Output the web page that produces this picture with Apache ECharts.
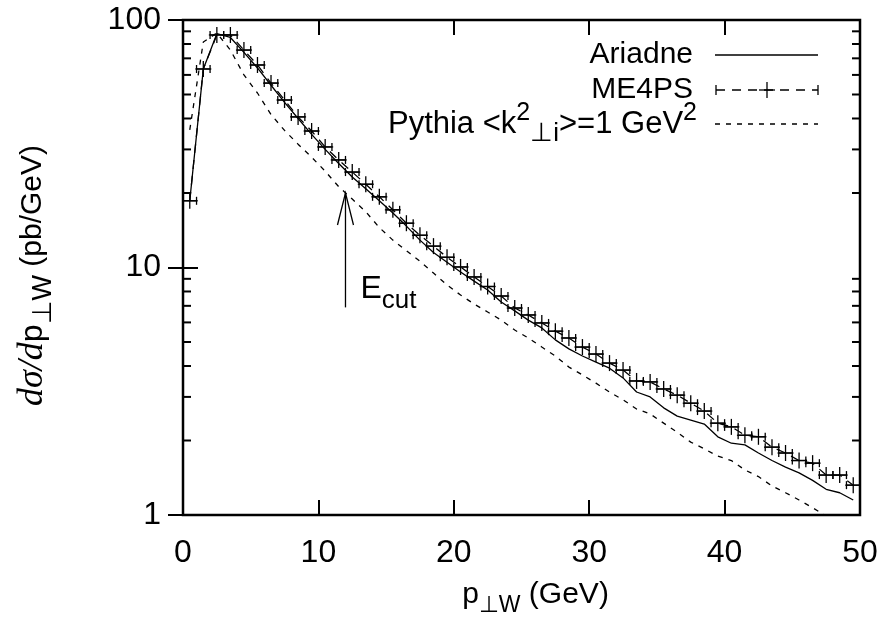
<!DOCTYPE html>
<html><head><meta charset="utf-8">
<script src="https://cdn.jsdelivr.net/npm/echarts@6/dist/echarts.min.js"></script>
<style>html,body{margin:0;padding:0;background:#fff}#c{width:886px;height:626px}</style>
</head><body><div id="c"></div>
<script>
// bin centres (GeV)
const pT = [0.5,1.5,2.5,3.5,4.5,5.5,6.5,7.5,8.5,9.5,10.5,11.5,12.5,13.5,14.5,15.5,16.5,17.5,18.5,19.5,
            20.5,21.5,22.5,23.5,24.5,25.5,26.5,27.5,28.5,29.5,30.5,31.5,32.5,33.5,34.5,35.5,36.5,37.5,38.5,39.5,
            40.5,41.5,42.5,43.5,44.5,45.5,46.5,47.5,48.5,49.5];
const ariadne = [18.6,63.4,88,85,74,64,54.5,46.5,40,34.5,30,26.3,23.2,20.8,18.6,16.6,14.7,12.9,11.5,10.5,
                 9.59,8.81,8.11,7.26,6.68,6.13,5.70,5.10,4.69,4.39,4.15,3.92,3.58,3.14,3.00,2.71,2.51,2.42,2.33,2.07,
                 1.95,1.92,1.78,1.66,1.56,1.48,1.38,1.27,1.23,1.15];
const me4ps = [18.6,63.4,87,87,75.6,65.8,55.6,47.5,40.6,35.6,30.7,27.2,24.3,21.7,19.3,17.1,15.1,13.5,12.2,11.0,
               10.05,9.16,8.38,7.67,6.86,6.43,5.97,5.53,5.19,4.77,4.47,4.11,3.85,3.48,3.45,3.23,3.05,2.83,2.63,2.35,
               2.27,2.10,2.07,1.88,1.78,1.66,1.62,1.45,1.45,1.32];
const pythia = [36,81.5,88.6,75.6,60,50.7,41.5,35.8,31.5,27.9,24.5,21.2,18.9,16.8,14.5,12.9,11.7,10.6,9.5,8.5,
                7.74,7.12,6.61,6.13,5.59,5.19,4.77,4.39,3.96,3.68,3.41,3.14,2.92,2.68,2.56,2.35,2.16,1.97,1.85,1.73,
                1.66,1.52,1.43,1.31,1.23,1.15,1.07,0.99,0.93,0.87];
const binHalfWidth = 0.5;
const yMinorTicks = [2,3,4,5,6,7,8,9,20,30,40,50,60,70,80,90];
const ecutArrow = [[12, 20, 6.9]]; // x, tip value, tail value

const FONT = '"Liberation Sans", Arial, Helvetica, sans-serif';
const SERIF = '"Liberation Serif", "Times New Roman", serif';
const BLACK = '#000';
const pairs = arr => pT.map((x, i) => [x, arr[i]]);

const chart = echarts.init(document.getElementById('c'));

const xRich = {
  n: {fontSize: 30, fontFamily: FONT, color: BLACK, lineHeight: 44},
  s: {fontSize: 23, fontFamily: FONT, color: BLACK, lineHeight: 18, verticalAlign: 'bottom'}
};
const yRich = {
  i: {fontSize: 36, fontFamily: SERIF, fontStyle: 'italic', color: BLACK, lineHeight: 48},
  p: {fontSize: 32, fontFamily: FONT, color: BLACK, lineHeight: 48},
  n: {fontSize: 30, fontFamily: FONT, color: BLACK, lineHeight: 48},
  s: {fontSize: 27, fontFamily: FONT, color: BLACK, lineHeight: 22, verticalAlign: 'bottom'}
};

const tickStyle = {inside: true, length: 15, lineStyle: {color: BLACK, width: 2}};

chart.setOption({
  animation: false,
  backgroundColor: '#fff',
  grid: {left: 183, right: 26, top: 20, bottom: 111, show: true, borderColor: BLACK, borderWidth: 2.5, containLabel: false},
  xAxis: [
    {type: 'value', min: 0, max: 50, interval: 10, position: 'bottom',
     axisLine: {show: false}, axisTick: tickStyle, splitLine: {show: false},
     axisLabel: {fontSize: 32, fontFamily: FONT, color: BLACK, margin: 22},
     name: '{n|p}{s|⊥W}{n| (GeV)}', nameLocation: 'middle', nameGap: 58,
     nameTextStyle: {rich: xRich, padding: [0, 0, 0, 28]}},
    {type: 'value', min: 0, max: 50, interval: 10, position: 'top',
     axisLine: {show: false}, axisTick: tickStyle, splitLine: {show: false}, axisLabel: {show: false}}
  ],
  yAxis: [
    {type: 'log', logBase: 10, min: 1, max: 100, position: 'left',
     axisLine: {show: false}, axisTick: tickStyle, splitLine: {show: false}, minorTick: {show: false},
     axisLabel: {fontSize: 32, fontFamily: FONT, color: BLACK, margin: 22},
     name: '{i|dσ/d}{p|p}{s|⊥W}{n| (pb/GeV)}', nameLocation: 'middle', nameRotate: 90, nameGap: 126,
     nameTextStyle: {rich: yRich, padding: [0, 16, 0, 0]}},
    {type: 'log', logBase: 10, min: 1, max: 100, position: 'right',
     axisLine: {show: false}, axisTick: tickStyle, splitLine: {show: false}, axisLabel: {show: false}}
  ],
  series: [
    {name: 'Ariadne', type: 'line', data: pairs(ariadne), symbol: 'none', clip: true,
     lineStyle: {color: BLACK, width: 1.3}, z: 2},
    {name: 'ME4PS', type: 'line', data: pairs(me4ps), symbol: 'none', clip: true,
     lineStyle: {color: BLACK, width: 1.3, type: [9, 7]}, z: 2},
    {name: 'ME4PS bars', type: 'custom', data: pairs(me4ps), clip: true, z: 3,
     renderItem: (params, api) => {
       const x = api.value(0), y = api.value(1);
       const c = api.coord([x, y]);
       const l = api.coord([x - binHalfWidth, y]);
       const r = api.coord([x + binHalfWidth, y]);
       const st = {stroke: BLACK, lineWidth: 1.3};
       return {type: 'group', children: [
         {type: 'line', shape: {x1: l[0], y1: c[1], x2: r[0], y2: c[1]}, style: st},
         {type: 'line', shape: {x1: l[0], y1: c[1] - 4, x2: l[0], y2: c[1] + 4}, style: st},
         {type: 'line', shape: {x1: r[0], y1: c[1] - 4, x2: r[0], y2: c[1] + 4}, style: st},
         {type: 'line', shape: {x1: c[0], y1: c[1] - 8, x2: c[0], y2: c[1] + 8}, style: st},
         {type: 'line', shape: {x1: c[0] - 8, y1: c[1], x2: c[0] + 8, y2: c[1]}, style: st}
       ]};
     }},
    {name: 'Pythia', type: 'line', data: pairs(pythia), symbol: 'none', clip: true,
     lineStyle: {color: BLACK, width: 1.3, type: [5, 6]}, z: 2},
    {name: 'minor ticks', type: 'custom', data: yMinorTicks.map(v => [0, v]), silent: true, z: 4,
     renderItem: (params, api) => {
       const v = api.value(1);
       const a = api.coord([0, v]), b = api.coord([50, v]);
       const st = {stroke: BLACK, lineWidth: 2};
       return {type: 'group', children: [
         {type: 'line', shape: {x1: a[0], y1: a[1], x2: a[0] + 8, y2: a[1]}, style: st},
         {type: 'line', shape: {x1: b[0] - 8, y1: b[1], x2: b[0], y2: b[1]}, style: st}
       ]};
     }},
    {name: 'Ecut', type: 'custom', data: ecutArrow, silent: true, z: 5,
     renderItem: (params, api) => {
       const x = api.value(0);
       const tip = api.coord([x, api.value(1)]);
       const tail = api.coord([x, api.value(2)]);
       const st = {stroke: BLACK, lineWidth: 1.3};
       return {type: 'group', children: [
         {type: 'line', shape: {x1: tail[0], y1: tail[1], x2: tip[0], y2: tip[1]}, style: st},
         {type: 'polyline', shape: {points: [[tip[0] - 8, tip[1] + 32], [tip[0], tip[1]], [tip[0] + 8, tip[1] + 32]]}, style: {stroke: BLACK, lineWidth: 1.3, fill: null}},
         {type: 'text', x: tail[0] + 15, y: tail[1] - 18, style: {
           text: '{e|E}{s|cut}', verticalAlign: 'middle', align: 'left',
           rich: {e: {fontSize: 32, fontFamily: FONT, color: BLACK, lineHeight: 48},
                  s: {fontSize: 26, fontFamily: FONT, color: BLACK, lineHeight: 20, verticalAlign: 'bottom'}}}}
       ]};
     }}
  ],
  graphic: [
    {type: 'text', x: 693, y: 55, style: {text: 'Ariadne', font: '30px ' + FONT, fill: BLACK, align: 'right', verticalAlign: 'middle'}},
    {type: 'line', shape: {x1: 715, y1: 55, x2: 818, y2: 55}, style: {stroke: BLACK, lineWidth: 1.3}},
    {type: 'text', x: 693, y: 90, style: {text: 'ME4PS', font: '30px ' + FONT, fill: BLACK, align: 'right', verticalAlign: 'middle'}},
    {type: 'line', shape: {x1: 716, y1: 90, x2: 818, y2: 90}, style: {stroke: BLACK, lineWidth: 1.3, lineDash: [9, 7]}},
    {type: 'line', shape: {x1: 716, y1: 85, x2: 716, y2: 95}, style: {stroke: BLACK, lineWidth: 1.3}},
    {type: 'line', shape: {x1: 818, y1: 85, x2: 818, y2: 95}, style: {stroke: BLACK, lineWidth: 1.3}},
    {type: 'line', shape: {x1: 767, y1: 82, x2: 767, y2: 98}, style: {stroke: BLACK, lineWidth: 1.3}},
    {type: 'line', shape: {x1: 759, y1: 90, x2: 775, y2: 90}, style: {stroke: BLACK, lineWidth: 1.3}},
    {type: 'text', x: 697, y: 124, style: {
      text: '{n|Pythia <k}{u|2}{s|⊥i}{n|>=1 GeV}{u|2}', align: 'right', verticalAlign: 'middle',
      rich: {n: {fontSize: 31, fontFamily: FONT, color: BLACK, lineHeight: 46},
             u: {fontSize: 25, fontFamily: FONT, color: BLACK, lineHeight: 20, verticalAlign: 'top'},
             s: {fontSize: 26, fontFamily: FONT, color: BLACK, lineHeight: 20, verticalAlign: 'bottom'}}}},
    {type: 'line', shape: {x1: 715, y1: 124, x2: 818, y2: 124}, style: {stroke: BLACK, lineWidth: 1.3, lineDash: [5, 6]}}
  ]
});
</script></body></html>
